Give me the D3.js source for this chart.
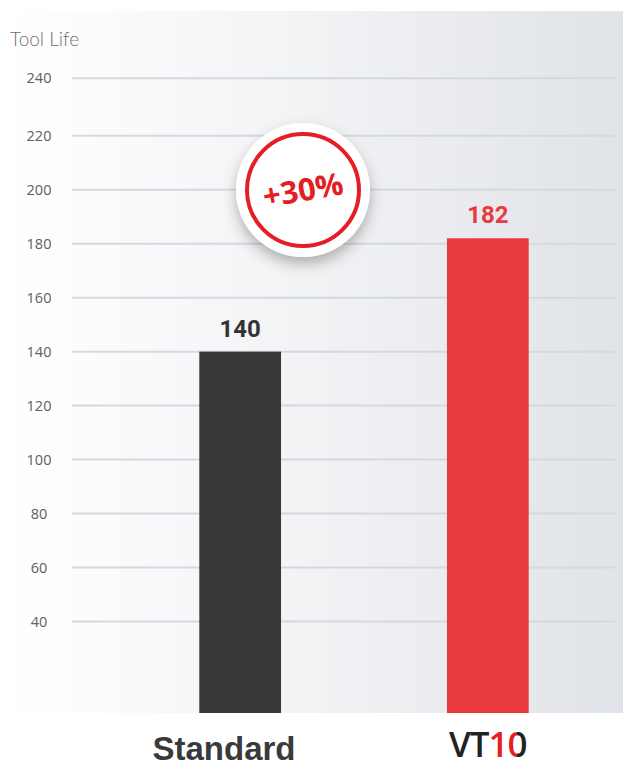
<!DOCTYPE html>
<html>
<head>
<meta charset="utf-8">
<script src="https://cdn.jsdelivr.net/npm/d3@7"></script>
<style>
  body { margin: 0; background: #fff; }
  svg { display: block; }
</style>
</head>
<body>
<div id="chart"></div>
<script>
// data
var categories = ["Standard", "VT10"];
var values = [140, 182];
var barColors = ["#383838", "#e83a41"];
var tickValues = [40, 60, 80, 100, 120, 140, 160, 180, 200, 220, 240];
var axisTitle = "Tool Life";
var badgeText = "+30%";

var svgWidth = 624;
var svgHeight = 767;

var panel = { x: 0, y: 11, w: 623, h: 702 };

var svg = d3.select("#chart")
  .append("svg")
  .attr("width", svgWidth)
  .attr("height", svgHeight);

var defs = svg.append("defs");

// background gradient, white on the left to grey-blue on the right
var bg = defs.append("linearGradient")
  .attr("id", "bgGrad")
  .attr("x1", "0%").attr("x2", "100%").attr("y1", "0%").attr("y2", "0%");
bg.append("stop").attr("offset", "0%").attr("stop-color", "#ffffff");
bg.append("stop").attr("offset", "45%").attr("stop-color", "#f3f4f6");
bg.append("stop").attr("offset", "100%").attr("stop-color", "#e0e3e7");

defs.append("clipPath").attr("id", "panelClip")
  .append("rect")
  .attr("x", panel.x).attr("y", panel.y)
  .attr("width", panel.w).attr("height", panel.h);

var shadow = defs.append("filter")
  .attr("id", "badgeShadow")
  .attr("x", "-40%").attr("y", "-40%").attr("width", "180%").attr("height", "190%");
shadow.append("feDropShadow")
  .attr("dx", 0).attr("dy", 7)
  .attr("stdDeviation", 7)
  .attr("flood-color", "#000")
  .attr("flood-opacity", 0.28);

svg.append("rect")
  .attr("x", panel.x).attr("y", panel.y)
  .attr("width", panel.w).attr("height", panel.h)
  .attr("fill", "url(#bgGrad)");

// scales (top step is drawn a little taller in the original)
var y = d3.scaleLinear()
  .domain([0, 220, 240])
  .range([729.5, 135.7, 78.3]);

var x = d3.scaleBand()
  .domain(categories)
  .range([125, 603])
  .paddingInner(0.67)
  .paddingOuter(0.3);

// gridlines
svg.append("g")
  .selectAll("line")
  .data(tickValues)
  .enter()
  .append("line")
  .attr("x1", 72)
  .attr("x2", 615)
  .attr("y1", d => y(d))
  .attr("y2", d => y(d))
  .attr("stroke", "#d5d8df")
  .attr("stroke-width", 2);

// y axis labels
var yAxis = d3.axisLeft(y)
  .tickValues(tickValues)
  .tickSize(0)
  .tickPadding(0);

var yAxisG = svg.append("g")
  .attr("transform", "translate(72,0)")
  .call(yAxis);
yAxisG.select(".domain").remove();
yAxisG.selectAll("text")
  .attr("x", -33)
  .attr("text-anchor", "middle")
  .attr("font-family", "'Open Sans', sans-serif")
  .attr("font-size", "14.5px")
  .attr("fill", "#606060");

svg.append("text")
  .attr("x", 10)
  .attr("y", 46)
  .attr("font-family", "Lato, sans-serif")
  .attr("font-weight", 300)
  .attr("font-size", "19px")
  .attr("fill", "#6e6e6e")
  .text(axisTitle);

// bars
svg.append("g")
  .attr("clip-path", "url(#panelClip)")
  .selectAll("rect")
  .data(values)
  .enter()
  .append("rect")
  .attr("x", (d, i) => x(categories[i]))
  .attr("width", x.bandwidth())
  .attr("y", d => y(d))
  .attr("height", d => y(0) - y(d))
  .attr("fill", (d, i) => barColors[i]);

// value labels
svg.append("g")
  .selectAll("text")
  .data(values)
  .enter()
  .append("text")
  .attr("x", (d, i) => x(categories[i]) + x.bandwidth() / 2)
  .attr("y", d => y(d) - 15)
  .attr("text-anchor", "middle")
  .attr("font-family", "Roboto, sans-serif")
  .attr("font-weight", 700)
  .attr("font-size", "24px")
  .attr("fill", (d, i) => i === 0 ? "#333" : "#e83a41")
  .text(d => d);

// category labels
svg.append("text")
  .attr("x", 224)
  .attr("y", 760)
  .attr("text-anchor", "middle")
  .attr("font-family", "'Liberation Sans', Arial, sans-serif")
  .attr("font-weight", 700)
  .attr("font-size", "33px")
  .attr("fill", "#3a3a3a")
  .text(categories[0]);

var vt = svg.append("text")
  .attr("x", x(categories[1]) + x.bandwidth() / 2)
  .attr("y", 757)
  .attr("text-anchor", "middle")
  .attr("font-family", "'Open Sans', sans-serif")
  .attr("font-weight", 600)
  .attr("font-size", "35px")
  .attr("letter-spacing", "-1px")
  .text(categories[1]);

// "VT" dark, "1" red, "0" half red / half dark
var box = vt.node().getBBox();
var n = vt.node();
var s1 = n.getStartPositionOfChar(2).x;
var s0 = n.getStartPositionOfChar(3).x;
var e0 = n.getEndPositionOfChar(3).x;
var mid0 = (s0 + e0) / 2;
var vtGrad = defs.append("linearGradient")
  .attr("id", "vtGrad")
  .attr("gradientUnits", "userSpaceOnUse")
  .attr("x1", box.x).attr("x2", box.x + box.width)
  .attr("y1", 0).attr("y2", 0);
function off(px) { return (px - box.x) / box.width; }
[["#222", 0], ["#222", off(s1)], ["#e31e24", off(s1)], ["#e31e24", off(mid0)], ["#222", off(mid0)], ["#222", 1]]
  .forEach(function(s) {
    vtGrad.append("stop").attr("offset", s[1]).attr("stop-color", s[0]);
  });
vt.attr("fill", "url(#vtGrad)");

// +30% badge
var badge = svg.append("g")
  .attr("transform", "translate(303,190)");
badge.append("circle")
  .attr("r", 67)
  .attr("fill", "#fff")
  .attr("filter", "url(#badgeShadow)");
badge.append("circle")
  .attr("r", 56)
  .attr("fill", "none")
  .attr("stroke", "#e31e24")
  .attr("stroke-width", 4);
badge.append("text")
  .attr("transform", "rotate(-10)")
  .attr("y", 11)
  .attr("text-anchor", "middle")
  .attr("font-family", "'Open Sans', sans-serif")
  .attr("font-weight", 700)
  .attr("font-size", "31px")
  .attr("fill", "#e31e24")
  .text(badgeText);
</script>
</body>
</html>
